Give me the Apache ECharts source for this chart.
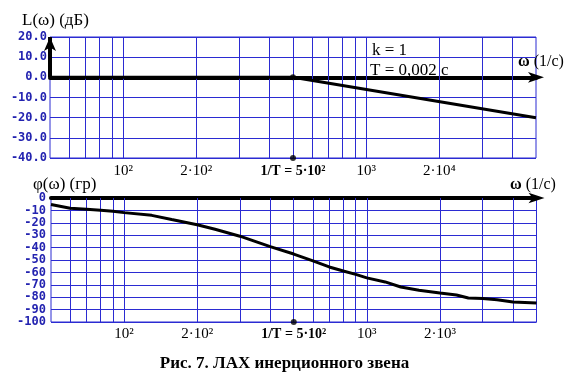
<!DOCTYPE html>
<html><head><meta charset="utf-8">
<script src="https://cdn.jsdelivr.net/npm/echarts@6/dist/echarts.min.js"></script>
<style>html,body{margin:0;padding:0;background:#fff}#c{width:569px;height:384px}</style>
</head><body><div id="c"></div>
<script>
// ---- data ----
const xMin = 50, xMax = 5000;
const breakOmega = 500;                       // 1/T
const gridOmega = [60, 70, 80, 90, 100, 200, 300, 400, 500, 600, 700, 800, 900, 1000, 2000, 3000, 4000];
const tickValues = [100, 200, 500, 1000, 2000];
const topTickLabels = ['10²', '2·10²', '1/T = 5·10²', '10³', '2·10⁴'];
const bottomTickLabels = ['10²', '2·10²', '1/T = 5·10²', '10³', '2·10³'];
const omegaL = [50, 500, 5000];
const L = [0, 0, -20];
const omegaPhi = [50, 60, 70, 80, 90, 100, 130, 157, 200, 237, 300, 400, 500, 600, 700, 800, 900, 1000, 1190, 1380, 1640, 2000, 2340, 2620, 3000, 3440, 4000, 5000];
const phi = [-5.3, -8.3, -9.1, -9.9, -10.7, -11.8, -14.0, -17.4, -21.6, -25.2, -30.8, -39.2, -45.2, -50.7, -55.6, -58.9, -61.6, -64.4, -67.7, -71.8, -74.4, -76.6, -78.2, -80.6, -81.1, -82.0, -83.8, -84.6];
const lMin = -40, lMax = 20, lStep = 10;
const pMin = -100, pMax = 0, pStep = 10;

// ---- styles ----
const BLUE = '#2b2bd2';
const LBLUE = '#2323b0';
const SERIF = '"Liberation Serif","DejaVu Serif",serif';
const MONO = '"DejaVu Sans Mono","Liberation Mono",monospace';

function nearestIdx(v) {
  let best = 0, bd = Infinity;
  tickValues.forEach((t, i) => { const d = Math.abs(Math.log(v / t)); if (d < bd) { bd = d; best = i; } });
  return best;
}
function tickFmt(labels) {
  return function (v) {
    const i = nearestIdx(v);
    return (tickValues[i] === breakOmega ? '{b|' : '{n|') + labels[i] + '}';
  };
}
const tickRich = {
  n: { fontFamily: SERIF, fontSize: 15, color: '#000' },
  b: { fontFamily: SERIF, fontSize: 14, fontWeight: 'bold', color: '#000' }
};

function labelAxis(gi, labels, margin) {
  return {
    type: 'log', logBase: 10, gridIndex: gi, min: xMin, max: xMax, position: 'bottom',
    axisLine: { show: false, onZero: false }, axisTick: { show: false }, splitLine: { show: false },
    axisLabel: { customValues: tickValues, formatter: tickFmt(labels), rich: tickRich, margin: margin, showMinLabel: true, showMaxLabel: true, hideOverlap: false }
  };
}
function lineAxis(gi) {
  return {
    type: 'log', logBase: 10, gridIndex: gi, min: xMin, max: xMax, position: 'bottom',
    axisLine: { show: true, onZero: true, symbol: ['none', 'arrow'], symbolSize: [8, 16], symbolOffset: [0, 8],
      lineStyle: { color: '#000', width: 4 } },
    axisTick: { show: false }, axisLabel: { show: false }, splitLine: { show: false }
  };
}

const chart = echarts.init(document.getElementById('c'), null, { renderer: 'canvas' });
chart.setOption({
  animation: false,
  backgroundColor: '#fff',
  grid: [
    { left: 50, top: 37, width: 486, height: 121, show: true, borderColor: BLUE, borderWidth: 1, backgroundColor: 'transparent' },
    { left: 51, top: 198, width: 485.5, height: 124, show: true, borderColor: BLUE, borderWidth: 1, backgroundColor: 'transparent' }
  ],
  xAxis: [labelAxis(0, topTickLabels, 6), lineAxis(0), labelAxis(1, bottomTickLabels, 5), lineAxis(1)],
  yAxis: [
    { type: 'value', gridIndex: 0, min: lMin, max: lMax, interval: lStep,
      axisLine: { show: false }, axisTick: { show: false },
      splitLine: { show: true, lineStyle: { color: BLUE, width: 1 } },
      axisLabel: { formatter: v => v.toFixed(1), color: LBLUE, fontFamily: MONO, fontWeight: 'bold', fontSize: 12, margin: 3 } },
    { type: 'value', gridIndex: 1, min: pMin, max: pMax, interval: pStep,
      axisLine: { show: false }, axisTick: { show: false },
      splitLine: { show: true, lineStyle: { color: BLUE, width: 1 } },
      axisLabel: { formatter: v => String(v), color: LBLUE, fontFamily: MONO, fontWeight: 'bold', fontSize: 12, margin: 5 } }
  ],
  series: [
    // vertical grid lines, top
    { type: 'line', xAxisIndex: 0, yAxisIndex: 0, data: [[xMin, lMin]], symbol: 'none', lineStyle: { width: 0 }, z: 1, silent: true,
      markLine: { silent: true, symbol: 'none', label: { show: false }, lineStyle: { color: BLUE, width: 1, type: 'solid' },
        data: gridOmega.map(v => ({ xAxis: v })) } },
    // vertical grid lines, bottom
    { type: 'line', xAxisIndex: 2, yAxisIndex: 1, data: [[xMin, pMin]], symbol: 'none', lineStyle: { width: 0 }, z: 1, silent: true,
      markLine: { silent: true, symbol: 'none', label: { show: false }, lineStyle: { color: BLUE, width: 1, type: 'solid' },
        data: gridOmega.map(v => ({ xAxis: v })) } },
    // L axis arrow (0 .. top)
    { type: 'line', xAxisIndex: 0, yAxisIndex: 0, data: [[xMin, 0]], symbol: 'none', lineStyle: { width: 0 }, z: 4, silent: true, clip: false,
      markLine: { silent: true, symbol: ['none', 'arrow'], symbolSize: [9, 14], label: { show: false }, lineStyle: { color: '#000', width: 4, type: 'solid' },
        data: [[{ coord: [xMin, 0] }, { coord: [xMin, lMax] }]] } },
    // L(ω)
    { type: 'line', xAxisIndex: 0, yAxisIndex: 0, data: omegaL.map((w, i) => [w, L[i]]), symbol: 'none',
      lineStyle: { color: '#000', width: 3 }, z: 5, silent: true },
    // φ(ω)
    { type: 'line', xAxisIndex: 2, yAxisIndex: 1, data: omegaPhi.map((w, i) => [w, phi[i]]), symbol: 'none',
      lineStyle: { color: '#000', width: 3 }, z: 5, silent: true },
    // break-frequency dots
    { type: 'scatter', xAxisIndex: 0, yAxisIndex: 0, data: [[breakOmega, 0], [breakOmega, lMin]], symbol: 'circle', symbolSize: 6,
      itemStyle: { color: '#000' }, clip: false, z: 6, silent: true },
    { type: 'scatter', xAxisIndex: 2, yAxisIndex: 1, data: [[breakOmega, pMin]], symbol: 'circle', symbolSize: 6,
      itemStyle: { color: '#000' }, clip: false, z: 6, silent: true }
  ],
  graphic: [
    { type: 'text', left: 22, top: 12, style: { text: 'L(ω) (дБ)', font: '17px ' + SERIF, fill: '#000' } },
    { type: 'text', left: 33, top: 176, style: { text: 'φ(ω) (гр)', font: '17px ' + SERIF, fill: '#000' } },
    { type: 'text', left: 372, top: 42, style: { text: 'k = 1', font: '17px ' + SERIF, fill: '#000' } },
    { type: 'text', left: 370, top: 62, style: { text: 'T = 0,002 c', font: '17px ' + SERIF, fill: '#000' } },
    { type: 'text', left: 518, top: 54, style: { text: '{w|ω} (1/c)', font: '16px ' + SERIF, fill: '#000',
      rich: { w: { fontFamily: SERIF, fontSize: 16, fontWeight: 'bold' } } } },
    { type: 'text', left: 510, top: 177, style: { text: '{w|ω} (1/c)', font: '16px ' + SERIF, fill: '#000',
      rich: { w: { fontFamily: SERIF, fontSize: 16, fontWeight: 'bold' } } } },
    { type: 'text', left: 'center', top: 355, style: { text: 'Рис. 7. ЛАХ инерционного звена', font: 'bold 17px ' + SERIF, fill: '#000' } }
  ]
});
</script>
</body></html>
